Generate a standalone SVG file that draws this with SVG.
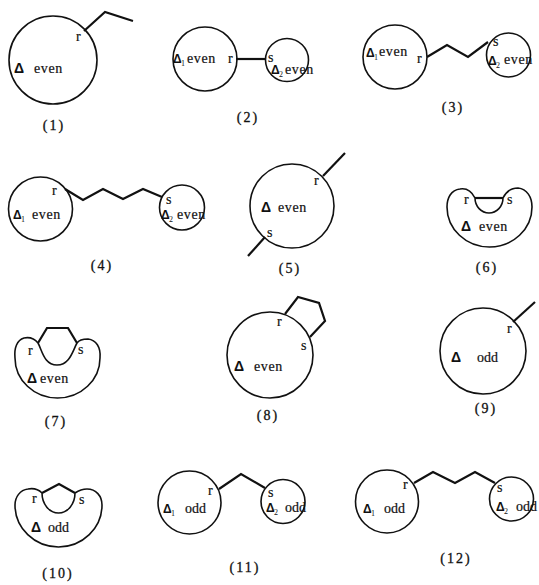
<svg xmlns="http://www.w3.org/2000/svg" width="539" height="585" viewBox="0 0 539 585">
  <style>
    .ring { fill: none; stroke: #111; stroke-width: 1.6; }
    .bond { fill: none; stroke: #111; stroke-width: 2.2; stroke-linejoin: miter; }
    .t { font-family: "Liberation Serif", "Times New Roman", serif; font-size: 14px; fill: #111; stroke: #111; stroke-width: 0.2px; }
    .w { letter-spacing: 0.6px; }
    .d { font-family: "Liberation Sans", Arial, sans-serif; font-weight: bold; font-size: 14px; fill: #111; }
    .ds { font-family: "Liberation Sans", Arial, sans-serif; font-weight: bold; font-size: 12px; fill: #111; }
    .sub { font-family: "Liberation Serif", serif; font-size: 8px; fill: #111; }
    .cap { font-family: "Liberation Serif", "Times New Roman", serif; font-size: 14px; letter-spacing: 2px; fill: #111; stroke: #111; stroke-width: 0.3px; text-anchor: middle; }
  </style>
  <rect width="539" height="585" fill="#fff"/>

  <g id="bonds">
    <polyline class="bond" points="84,31 105,12 133,21"/>
    <line class="bond" x1="236" y1="59" x2="265" y2="59" stroke-width="2.6"/>
    <polyline class="bond" points="427,57 447,45 468,57 488,42"/>
    <polyline class="bond" points="65,189 83,200 103,189 123,199 143,189 162,197"/>
    <line class="bond" x1="323" y1="176" x2="345" y2="153"/>
    <line class="bond" x1="265" y1="237" x2="248" y2="256"/>
    <line class="bond" x1="475" y1="198" x2="503" y2="198" stroke-width="2.6"/>
    <polyline class="bond" points="38,343 47,328 68,328 77,343"/>
    <polyline class="bond" points="285,314 298,297 319,303 325,321 310,337"/>
    <line class="bond" x1="513" y1="322" x2="535" y2="302"/>
    <polyline class="bond" points="42,493 59,484 75,493"/>
    <polyline class="bond" points="219,489 241,474 265,488"/>
    <polyline class="bond" points="414,483 433,472 455,483 475,472 495,483"/>
  </g>

  <!-- (1) -->
  <g id="case1">
    <circle class="ring" cx="53" cy="60" r="44"/>
    <text class="t" x="76" y="41">r</text>
    <text class="d" x="14" y="73">Δ</text>
    <text class="t w" x="34" y="73">even</text>
    <text class="cap" x="54" y="130">(1)</text>
  </g>

  <!-- (2) -->
  <g id="case2">
    <circle class="ring" cx="205" cy="59" r="32"/>
    <circle class="ring" cx="287" cy="60" r="21.5"/>
    <text class="ds" x="173" y="63">Δ</text>
    <text class="sub" x="181" y="66">1</text>
    <text class="t w" x="187" y="63">even</text>
    <text class="t" x="228" y="63">r</text>
    <text class="t" x="268" y="62">s</text>
    <text class="ds" x="271" y="74">Δ</text>
    <text class="sub" x="279" y="77">2</text>
    <text class="t w" x="285" y="74">even</text>
    <text class="cap" x="248" y="122">(2)</text>
  </g>

  <!-- (3) -->
  <g id="case3">
    <circle class="ring" cx="395" cy="57" r="32"/>
    <circle class="ring" cx="508.5" cy="55" r="22"/>
    <text class="ds" x="366" y="57">Δ</text>
    <text class="sub" x="374" y="60">1</text>
    <text class="t w" x="379" y="56">even</text>
    <text class="t" x="417" y="63">r</text>
    <text class="t" x="493" y="46">s</text>
    <text class="ds" x="488" y="65">Δ</text>
    <text class="sub" x="496" y="68">2</text>
    <text class="t w" x="504" y="64">even</text>
    <text class="cap" x="453" y="112">(3)</text>
  </g>

  <!-- (4) -->
  <g id="case4">
    <circle class="ring" cx="40.5" cy="209" r="32"/>
    <circle class="ring" cx="182" cy="207.5" r="22.5"/>
    <text class="t" x="52" y="195">r</text>
    <text class="ds" x="13" y="219">Δ</text>
    <text class="sub" x="21" y="222">1</text>
    <text class="t w" x="32" y="219">even</text>
    <text class="t" x="166" y="204">s</text>
    <text class="ds" x="161" y="219">Δ</text>
    <text class="sub" x="169" y="222">2</text>
    <text class="t w" x="177" y="219">even</text>
    <text class="cap" x="102" y="270">(4)</text>
  </g>

  <!-- (5) -->
  <g id="case5">
    <circle class="ring" cx="292" cy="206" r="42"/>
    <text class="t" x="314" y="185">r</text>
    <text class="d" x="261" y="212">Δ</text>
    <text class="t w" x="278" y="212">even</text>
    <text class="t" x="267" y="237">s</text>
    <text class="cap" x="290" y="273">(5)</text>
  </g>

  <!-- (6) -->
  <g id="case6">
    <path class="ring" d="M475,198 C471,190 466,188 460,189 C451,190 447,198 447,207 A42.5,40 0 0 0 532,207 C532,197 527,189 518,188 C511,188 506,192 503,198 A14,15 0 0 1 475,198 Z"/>
    <text class="t" x="464" y="204">r</text>
    <text class="t" x="507" y="204">s</text>
    <text class="d" x="461" y="231">Δ</text>
    <text class="t w" x="479" y="231">even</text>
    <text class="cap" x="487" y="272">(6)</text>
  </g>

  <!-- (7) -->
  <g id="case7">
    <path class="ring" d="M38,343 C34,338 29,337 24,338 C17,340 14,348 15,358 A42.5,40 0 0 0 100,358 C101,347 96,340 88,339 C83,339 79,340 77,343 C73,350 70,365 57,365 C44,365 42,350 38,343 Z"/>
    <text class="t" x="28" y="355">r</text>
    <text class="t" x="78" y="354">s</text>
    <text class="d" x="27" y="383">Δ</text>
    <text class="t w" x="40" y="383">even</text>
    <text class="cap" x="56" y="426">(7)</text>
  </g>

  <!-- (8) -->
  <g id="case8">
    <circle class="ring" cx="270" cy="355" r="43"/>
    <text class="t" x="277" y="326">r</text>
    <text class="t" x="301" y="350">s</text>
    <text class="d" x="234" y="371">Δ</text>
    <text class="t w" x="254" y="371">even</text>
    <text class="cap" x="268" y="420">(8)</text>
  </g>

  <!-- (9) -->
  <g id="case9">
    <circle class="ring" cx="483" cy="351" r="43"/>
    <text class="t" x="507" y="333">r</text>
    <text class="d" x="451" y="362">Δ</text>
    <text class="t" x="477" y="362">odd</text>
    <text class="cap" x="486" y="413">(9)</text>
  </g>

  <!-- (10) -->
  <g id="case10">
    <path class="ring" d="M42,493 C38,489 33,488 28,489 C20,490 15,497 15,505 A43.5,42 0 0 0 102,505 C102,496 96,489 87,489 C82,489 78,491 75,493 A16.5,20 0 0 1 42,493 Z"/>
    <text class="t" x="32" y="503">r</text>
    <text class="t" x="79" y="504">s</text>
    <text class="d" x="31" y="532">Δ</text>
    <text class="t" x="48" y="532">odd</text>
    <text class="cap" x="58" y="578">(10)</text>
  </g>

  <!-- (11) -->
  <g id="case11">
    <circle class="ring" cx="189.5" cy="502.5" r="31.5"/>
    <circle class="ring" cx="283" cy="501.5" r="22"/>
    <text class="t" x="208" y="495">r</text>
    <text class="ds" x="163" y="513">Δ</text>
    <text class="sub" x="171" y="516">1</text>
    <text class="t" x="185" y="513">odd</text>
    <text class="t" x="268" y="497">s</text>
    <text class="ds" x="266" y="512">Δ</text>
    <text class="sub" x="274" y="515">2</text>
    <text class="t" x="285" y="512">odd</text>
    <text class="cap" x="245" y="572">(11)</text>
  </g>

  <!-- (12) -->
  <g id="case12">
    <circle class="ring" cx="387" cy="501.5" r="31.5"/>
    <circle class="ring" cx="511.5" cy="499" r="22"/>
    <text class="t" x="403" y="489">r</text>
    <text class="ds" x="363" y="513">Δ</text>
    <text class="sub" x="371" y="516">1</text>
    <text class="t" x="384" y="513">odd</text>
    <text class="t" x="497" y="492">s</text>
    <text class="ds" x="496" y="511">Δ</text>
    <text class="sub" x="504" y="514">2</text>
    <text class="t" x="516" y="511">odd</text>
    <text class="cap" x="456" y="563">(12)</text>
  </g>
</svg>
